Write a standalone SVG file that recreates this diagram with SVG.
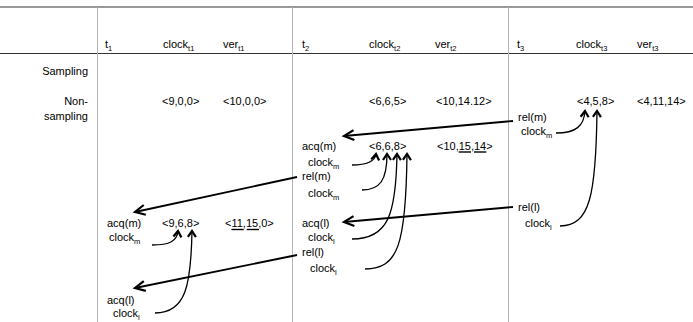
<svg xmlns="http://www.w3.org/2000/svg" width="693" height="322" viewBox="0 0 693 322">
  <style>
    text { font-family: "Liberation Sans", Arial, Helvetica, sans-serif; font-size: 11px; fill: #000; }
    .sub { font-size: 7.5px; }
    .rule { stroke: #333; stroke-width: 1.2; fill: none; }
    .col { stroke: #b5b5b5; stroke-width: 1; fill: none; }
    .msg { fill: none; stroke: #000; stroke-width: 1.8; marker-end: url(#head); }
    .dep { fill: none; stroke: #000; stroke-width: 1.3; marker-end: url(#tip); }
    .ul { stroke: #000; stroke-width: 1.4; }
    .end { text-anchor: end; }
  </style>
  <defs>
    <marker id="head" markerUnits="userSpaceOnUse" viewBox="-13 -8 16 16" markerWidth="16" markerHeight="16" refX="0" refY="0" orient="auto">
      <path d="M-10,-5 L0,0 L-10,5" fill="none" stroke="#000" stroke-width="2.2"/>
    </marker>
    <marker id="tip" markerUnits="userSpaceOnUse" viewBox="-10 -7 14 14" markerWidth="14" markerHeight="14" refX="0" refY="0" orient="auto">
      <path d="M-6,-4 L0,0 L-6,4" fill="none" stroke="#000" stroke-width="2.2"/>
    </marker>
  </defs>

  <!-- table rules -->
  <g id="grid">
    <line class="rule" x1="0" y1="7" x2="693" y2="7"/>
    <line class="rule" x1="0" y1="53.5" x2="693" y2="53.5"/>
    <line class="col" x1="97.5" y1="7" x2="97.5" y2="322"/>
    <line class="col" x1="292.5" y1="7" x2="292.5" y2="322"/>
    <line class="col" x1="508.5" y1="7" x2="508.5" y2="322"/>
  </g>

  <!-- column headings -->
  <g id="header">
    <text x="105" y="48">t<tspan class="sub" dy="3">1</tspan></text>
    <text x="163" y="48">clock<tspan class="sub" dy="3">t1</tspan></text>
    <text x="223" y="48">ver<tspan class="sub" dy="3">t1</tspan></text>
    <text x="302" y="48">t<tspan class="sub" dy="3">2</tspan></text>
    <text x="369" y="48">clock<tspan class="sub" dy="3">t2</tspan></text>
    <text x="435" y="48">ver<tspan class="sub" dy="3">t2</tspan></text>
    <text x="517" y="48">t<tspan class="sub" dy="3">3</tspan></text>
    <text x="576" y="48">clock<tspan class="sub" dy="3">t3</tspan></text>
    <text x="637" y="48">ver<tspan class="sub" dy="3">t3</tspan></text>
  </g>

  <!-- row headings -->
  <g id="rows">
    <text class="end" x="88" y="75">Sampling</text>
    <text class="end" x="88" y="105">Non-</text>
    <text class="end" x="88" y="120">sampling</text>
  </g>

  <!-- initial vectors -->
  <g id="init-t1">
    <text x="162" y="105">&lt;9,0,0&gt;</text>
    <text x="223" y="105">&lt;10,0,0&gt;</text>
  </g>
  <g id="init-t2">
    <text x="369" y="105">&lt;6,6,5&gt;</text>
    <text x="436" y="105">&lt;10,14.12&gt;</text>
  </g>
  <g id="init-t3">
    <text x="577" y="105">&lt;4,5,8&gt;</text>
    <text x="637" y="105">&lt;4,11,14&gt;</text>
  </g>

  <!-- thread 3 releases -->
  <g id="t3-rel-m">
    <text x="518" y="121">rel(m)</text>
    <text x="521" y="135">clock<tspan class="sub" dy="3">m</tspan></text>
  </g>
  <g id="t3-rel-l">
    <text x="518" y="211">rel(l)</text>
    <text x="525" y="227">clock<tspan class="sub" dy="3">l</tspan></text>
  </g>

  <!-- thread 2 events -->
  <g id="t2-acq-m">
    <text x="302" y="150">acq(m)</text>
    <text x="308" y="166">clock<tspan class="sub" dy="3">m</tspan></text>
  </g>
  <g id="t2-rel-m">
    <text x="302" y="180">rel(m)</text>
    <text x="308" y="197">clock<tspan class="sub" dy="3">m</tspan></text>
  </g>
  <g id="t2-acq-l">
    <text x="302" y="227">acq(l)</text>
    <text x="308" y="241">clock<tspan class="sub" dy="3">l</tspan></text>
  </g>
  <g id="t2-rel-l">
    <text x="302" y="256">rel(l)</text>
    <text x="310" y="272">clock<tspan class="sub" dy="3">l</tspan></text>
  </g>
  <g id="t2-vectors">
    <text x="369" y="150">&lt;6,6,8&gt;</text>
    <text x="437" y="150">&lt;10,15,14&gt;</text>
    <line class="ul" x1="458.7" y1="152" x2="471" y2="152"/>
    <line class="ul" x1="474" y1="152" x2="486.3" y2="152"/>
  </g>

  <!-- thread 1 events -->
  <g id="t1-acq-m">
    <text x="107" y="227">acq(m)</text>
    <text x="109" y="241">clock<tspan class="sub" dy="3">m</tspan></text>
  </g>
  <g id="t1-acq-l">
    <text x="107" y="304">acq(l)</text>
    <text x="113" y="317">clock<tspan class="sub" dy="3">l</tspan></text>
  </g>
  <g id="t1-vectors">
    <text x="162" y="227">&lt;9,6,8&gt;</text>
    <text x="225" y="227">&lt;11,15,0&gt;</text>
    <line class="ul" x1="231.4" y1="229.5" x2="243.7" y2="229.5"/>
    <line class="ul" x1="246.7" y1="229.5" x2="259" y2="229.5"/>
  </g>

  <g id="connectors">
    <!-- lock hand-offs between threads -->
    <path class="msg" d="M513,121 L344,136"/>
    <path class="msg" d="M297,177 L135,212"/>
    <path class="msg" d="M513,207 L344,222"/>
    <path class="msg" d="M297,255 L135,288"/>
    <!-- clock merges into vector entries -->
    <path class="dep" d="M556,133 C576,133 584,126 585,111"/>
    <path class="dep" d="M560,226 C590,226 596,195 597,111"/>
    <path class="dep" d="M352,165 C368,165 375,161 376,154"/>
    <path class="dep" d="M362,190 C380,190 387,180 387,154"/>
    <path class="dep" d="M352,239 C388,239 396,215 397,154"/>
    <path class="dep" d="M365,269 C398,269 406,245 407,154"/>
    <path class="dep" d="M152,245 C170,245 177,241 178,231"/>
    <path class="dep" d="M155,313 C186,313 191,285 192,231"/>
  </g>
</svg>
